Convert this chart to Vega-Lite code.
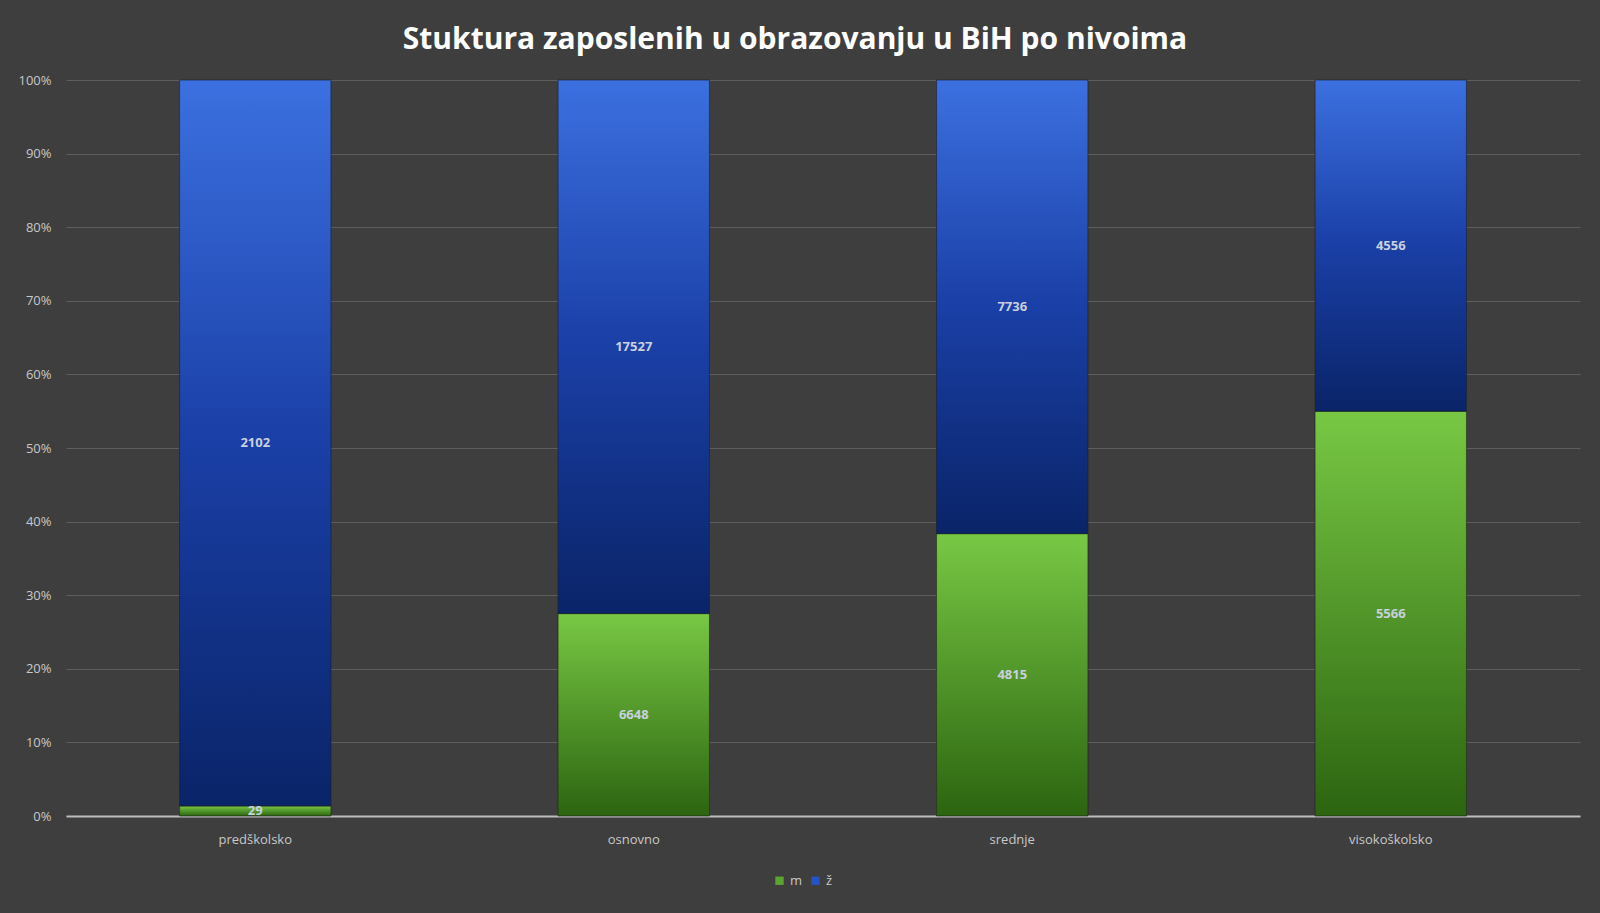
{
  "$schema": "https://vega.github.io/schema/vega-lite/v6.json",
  "autosize": "none",
  "width": 1514,
  "height": 736,
  "padding": {"left": 66, "top": 80, "right": 20, "bottom": 97},
  "background": "#3e3e3e",
  "title": {
    "text": "Stuktura zaposlenih u obrazovanju u BiH po nivoima",
    "font": "Open Sans",
    "fontSize": 30,
    "fontWeight": "bold",
    "color": "#ffffff",
    "anchor": "middle",
    "offset": 19,
    "dx": -28
  },
  "config": {
    "view": {"stroke": null},
    "font": "Open Sans"
  },
  "data": {
    "values": [
      {"nivo": "predškolsko", "spol": "m", "broj": 29},
      {"nivo": "predškolsko", "spol": "ž", "broj": 2102},
      {"nivo": "osnovno", "spol": "m", "broj": 6648},
      {"nivo": "osnovno", "spol": "ž", "broj": 17527},
      {"nivo": "srednje", "spol": "m", "broj": 4815},
      {"nivo": "srednje", "spol": "ž", "broj": 7736},
      {"nivo": "visokoškolsko", "spol": "m", "broj": 5566},
      {"nivo": "visokoškolsko", "spol": "ž", "broj": 4556}
    ]
  },
  "transform": [
    {"stack": "broj", "groupby": ["nivo"], "offset": "normalize", "sort": [{"field": "spol", "order": "ascending"}], "as": ["y0", "y1"]},
    {"calculate": "(datum.y0 + datum.y1) / 2", "as": "ymid"}
  ],
  "encoding": {
    "x": {
      "field": "nivo",
      "type": "nominal",
      "sort": ["predškolsko", "osnovno", "srednje", "visokoškolsko"],
      "scale": {"paddingInner": 0.6, "paddingOuter": 0.3},
      "axis": {
        "title": null,
        "labelAngle": 0,
        "labelColor": "#c8c8c8",
        "labelFontSize": 13,
        "labelPadding": 17,
        "ticks": false,
        "domainColor": "#bdbdbd",
        "domainWidth": 2,
        "grid": false
      }
    }
  },
  "layer": [
    {
      "mark": {"type": "bar"},
      "encoding": {
        "y": {
          "field": "y0",
          "type": "quantitative",
          "scale": {"domain": [0, 1]},
          "axis": {
            "title": null,
            "format": ".0%",
            "tickCount": 10,
            "labelColor": "#c8c8c8",
            "labelFontSize": 13,
            "labelPadding": 15,
            "ticks": false,
            "domain": false,
            "gridColor": "#5e5e5e",
            "gridWidth": 1
          }
        },
        "y2": {"field": "y1"},
        "color": {
          "field": "spol",
          "type": "nominal",
          "scale": {"domain": ["m", "ž"], "range": ["#5aa532", "#2552c4"]},
          "legend": {
            "title": null,
            "orient": "none",
            "direction": "horizontal",
            "legendX": 707,
            "legendY": 794,
            "symbolType": "square",
            "symbolSize": 70,
            "labelColor": "#c8c8c8",
            "labelFontSize": 13,
            "columnPadding": 6,
            "symbolStrokeWidth": 0
          }
        }
      }
    },
    {
      "transform": [{"filter": "datum.spol == 'm'"}],
      "mark": {
        "type": "bar",
        "stroke": "#1c1c1c",
        "strokeWidth": 1,
        "strokeOpacity": 0.6,
        "color": {"gradient": "linear", "x1": 0, "y1": 0, "x2": 0, "y2": 1, "stops": [{"offset": 0, "color": "#78c844"}, {"offset": 1, "color": "#2c6410"}]}
      },
      "encoding": {
        "y": {"field": "y0", "type": "quantitative"},
        "y2": {"field": "y1"}
      }
    },
    {
      "transform": [{"filter": "datum.spol == 'ž'"}],
      "mark": {
        "type": "bar",
        "stroke": "#1c1c1c",
        "strokeWidth": 1,
        "strokeOpacity": 0.6,
        "color": {"gradient": "linear", "x1": 0, "y1": 0, "x2": 0, "y2": 1, "stops": [{"offset": 0, "color": "#3c70e0"}, {"offset": 0.5, "color": "#1a3fa6"}, {"offset": 1, "color": "#0a2468"}]}
      },
      "encoding": {
        "y": {"field": "y0", "type": "quantitative"},
        "y2": {"field": "y1"}
      }
    },
    {
      "mark": {"type": "text", "color": "#c9d0de", "fontSize": 13, "fontWeight": "bold"},
      "encoding": {
        "y": {"field": "ymid", "type": "quantitative"},
        "text": {"field": "broj", "type": "quantitative", "format": "d"}
      }
    }
  ]
}
